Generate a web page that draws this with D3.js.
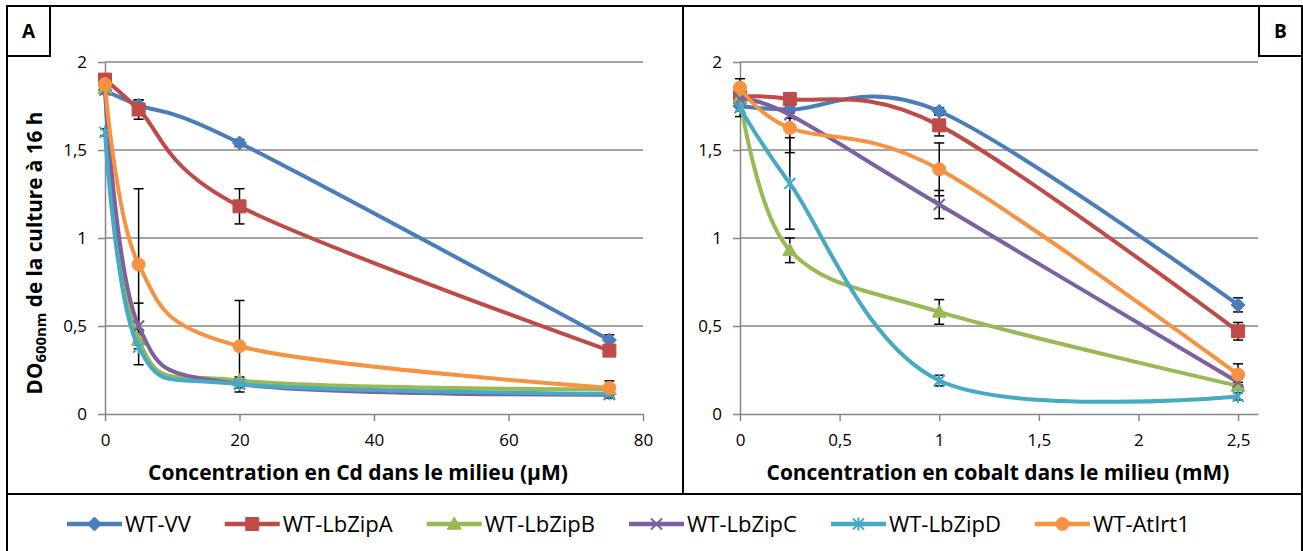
<!DOCTYPE html>
<html><head><meta charset="utf-8">
<script src="https://cdn.jsdelivr.net/npm/d3@7"></script>
<style>body{margin:0;background:#fff} svg{display:block}</style>
</head><body><svg id="c" width="1303" height="551"></svg>
<script>
const seriesNames = ["WT-VV","WT-LbZipA","WT-LbZipB","WT-LbZipC","WT-LbZipD","WT-AtIrt1"];
const seriesColors = ["#4A7EBB","#BE4B48","#98B954","#7D60A0","#46AAC5","#F69240"];
const seriesMarkers = ["diamond","square","triangle","x","star","circle"];

const cdConc = [0, 5, 20, 75];
const cdMeans = [
  [1.84, 1.755, 1.54, 0.42],
  [1.90, 1.73, 1.18, 0.36],
  [1.85, 0.42, 0.19, 0.14],
  [1.84, 0.50, 0.17, 0.11],
  [1.60, 0.38, 0.17, 0.115],
  [1.875, 0.85, 0.385, 0.148]
];
const cdErrors = [
  [0.02, 0.03, 0.02, 0.03],
  [0.02, 0.055, 0.10, 0.03],
  [0.02, 0.03, 0.02, 0.02],
  [0.02, 0.13, 0.02, 0.02],
  [0.02, 0.10, 0.02, 0.02],
  [0.02, 0.43, 0.26, 0.04]
];
const coConc = [0, 0.25, 1, 2.5];
const coMeans = [
  [1.75, 1.73, 1.72, 0.62],
  [1.80, 1.79, 1.64, 0.47],
  [1.80, 0.93, 0.58, 0.16],
  [1.79, 1.70, 1.19, 0.18],
  [1.74, 1.31, 0.19, 0.10],
  [1.855, 1.625, 1.39, 0.225]
];
const coErrors = [
  [0.06, 0.02, 0.02, 0.04],
  [0.02, 0.02, 0.06, 0.05],
  [0.02, 0.07, 0.07, 0.02],
  [0.02, 0.02, 0.08, 0.02],
  [0.02, 0.26, 0.03, 0.02],
  [0.05, 0.14, 0.15, 0.06]
];
const yTicks = [0, 0.5, 1, 1.5, 2];
const cdTicks = [0, 20, 40, 60, 80];
const coTicks = [0, 0.5, 1, 1.5, 2, 2.5];
const cdTitle = "Concentration en Cd dans le milieu (µM)";
const coTitle = "Concentration en cobalt dans le milieu (mM)";

const FONT = "'Open Sans','Noto Sans',sans-serif";
const GRID = "#868686";
const svg = d3.select("#c");
const fmt = d => String(d).replace(".", ",");

function fitSize(textSel, target) {
  const n = textSel.node();
  const s = parseFloat(textSel.attr("font-size"));
  const w = n.getComputedTextLength();
  const ns = s * target / w;
  textSel.attr("font-size", ns);
  return ns;
}

function markerPath(type, r) {
  switch (type) {
    case "diamond": return `M0,${-r}L${r},0L0,${r}L${-r},0Z`;
    case "square": return `M${-r},${-r}H${r}V${r}H${-r}Z`;
    case "triangle": return `M0,${-r}L${r},${r*0.75}L${-r},${r*0.75}Z`;
    case "circle": return d3.symbol(d3.symbolCircle, Math.PI * r * r)();
    case "x": return `M${-r},${-r}L${r},${r}M${-r},${r}L${r},${-r}`;
    case "star": return `M${-r},${-r}L${r},${r}M${-r},${r}L${r},${-r}M0,${-r*1.2}L0,${r*1.2}`;
  }
}
const markerSize = {diamond: 7, square: 6.5, triangle: 7, circle: 6.5, x: 5.5, star: 5.5};
function drawMarker(g, type, color, x, y, scale = 1) {
  const open = type === "x" || type === "star";
  g.append("path")
    .attr("d", markerPath(type, markerSize[type] * scale))
    .attr("transform", `translate(${x},${y})`)
    .attr("fill", open ? "none" : color)
    .attr("stroke", color)
    .attr("stroke-width", open ? 2 : 1);
}

function drawPanel(xRange, xDomain, conc, means, errors, xTicks, title, titleCx, titleW) {
  const x = d3.scaleLinear(xDomain, xRange);
  const y = d3.scaleLinear([0, 2], [414, 62]);
  const g = svg.append("g");
  g.append("g").selectAll("line").data(yTicks.filter(t => t > 0)).join("line")
    .attr("x1", xRange[0]).attr("x2", xRange[1])
    .attr("y1", d => y(d)).attr("y2", d => y(d))
    .attr("stroke", GRID).attr("stroke-width", 1.5);
  const ax = g.append("g").attr("transform", `translate(0,${y(0)})`)
    .call(d3.axisBottom(x).tickValues(xTicks).tickFormat(fmt).tickSize(7).tickSizeOuter(0).tickPadding(13));
  const ay = g.append("g").attr("transform", `translate(${xRange[0]},0)`)
    .call(d3.axisLeft(y).tickValues(yTicks).tickFormat(fmt).tickSize(7).tickSizeOuter(0).tickPadding(11));
  [ax, ay].forEach(a => {
    a.select(".domain").attr("stroke", GRID).attr("stroke-width", 1.5);
    a.selectAll(".tick line").attr("stroke", GRID).attr("stroke-width", 1.5);
    a.selectAll("text").attr("font-family", FONT).attr("font-size", 17).attr("fill", "#000");
  });
  const t = g.append("text").attr("x", titleCx).attr("y", 480)
    .attr("text-anchor", "middle").attr("font-family", FONT).attr("font-weight", "bold")
    .attr("font-size", 18).text(title);
  fitSize(t, titleW);
  const eb = g.append("g").attr("stroke", "#000").attr("stroke-width", 1.5);
  means.forEach((row, si) => {
    row.forEach((m, i) => {
      const e = errors[si][i];
      const cx = x(conc[i]);
      eb.append("line").attr("x1", cx).attr("x2", cx).attr("y1", y(m - e)).attr("y2", y(m + e));
      eb.append("line").attr("x1", cx - 5).attr("x2", cx + 5).attr("y1", y(m - e)).attr("y2", y(m - e));
      eb.append("line").attr("x1", cx - 5).attr("x2", cx + 5).attr("y1", y(m + e)).attr("y2", y(m + e));
    });
  });
  const line = d3.line().x((d, i) => x(conc[i])).y(d => y(d)).curve(d3.curveCardinal.tension(0));
  means.forEach((row, si) => {
    const sg = g.append("g");
    sg.append("path").attr("d", line(row)).attr("fill", "none")
      .attr("stroke", seriesColors[si]).attr("stroke-width", 4).attr("stroke-linejoin", "round");
    row.forEach((m, i) => drawMarker(sg, seriesMarkers[si], seriesColors[si], x(conc[i]), y(m)));
  });
}

const fr = svg.append("g").attr("fill", "none").attr("stroke", "#000").attr("stroke-width", 2);
fr.append("rect").attr("x", 7).attr("y", 6).attr("width", 1295).attr("height", 560);
fr.append("line").attr("x1", 683).attr("x2", 683).attr("y1", 6).attr("y2", 494);
fr.append("line").attr("x1", 7).attr("x2", 1302).attr("y1", 494).attr("y2", 494);
fr.append("rect").attr("x", 7).attr("y", 6).attr("width", 43).attr("height", 50);
fr.append("rect").attr("x", 1259).attr("y", 6).attr("width", 43).attr("height", 50);
svg.append("text").attr("x", 28.5).attr("y", 38).attr("text-anchor", "middle")
  .attr("font-family", FONT).attr("font-weight", "bold").attr("font-size", 19).text("A");
svg.append("text").attr("x", 1280.5).attr("y", 38).attr("text-anchor", "middle")
  .attr("font-family", FONT).attr("font-weight", "bold").attr("font-size", 19).text("B");

drawPanel([105, 643], [0, 80], cdConc, cdMeans, cdErrors, cdTicks, cdTitle, 358, 420);
drawPanel([740, 1258], [0, 2.6], coConc, coMeans, coErrors, coTicks, coTitle, 998, 463);

const yt = svg.append("text").attr("transform", "translate(42,253) rotate(-90)")
  .attr("text-anchor", "middle").attr("font-family", FONT).attr("font-weight", "bold").attr("font-size", 18);
yt.append("tspan").text("DO");
yt.append("tspan").attr("font-size", "0.72em").attr("dy", "0.3em").text("600nm");
yt.append("tspan").attr("dy", "-0.216em").text(" de la culture à 16 h");
fitSize(yt, 283);

// legend: font size from the reference width of "WT-LbZipA"
const probe = svg.append("text").attr("font-family", FONT).attr("font-size", 16).text(seriesNames[1]);
const legendSize = fitSize(probe, 110);
probe.remove();
const lg = svg.append("g");
let lx = 67;
const ly = 524;
seriesNames.forEach((name, si) => {
  lg.append("line").attr("x1", lx).attr("x2", lx + 55).attr("y1", ly).attr("y2", ly)
    .attr("stroke", seriesColors[si]).attr("stroke-width", 4.5);
  drawMarker(lg, seriesMarkers[si], seriesColors[si], lx + 27.5, ly, 1);
  const t = lg.append("text").attr("x", lx + 58).attr("y", ly + 7.5)
    .attr("font-family", FONT).attr("font-size", legendSize).text(name);
  lx += 58 + t.node().getComputedTextLength() + 34;
});
</script></body></html>
